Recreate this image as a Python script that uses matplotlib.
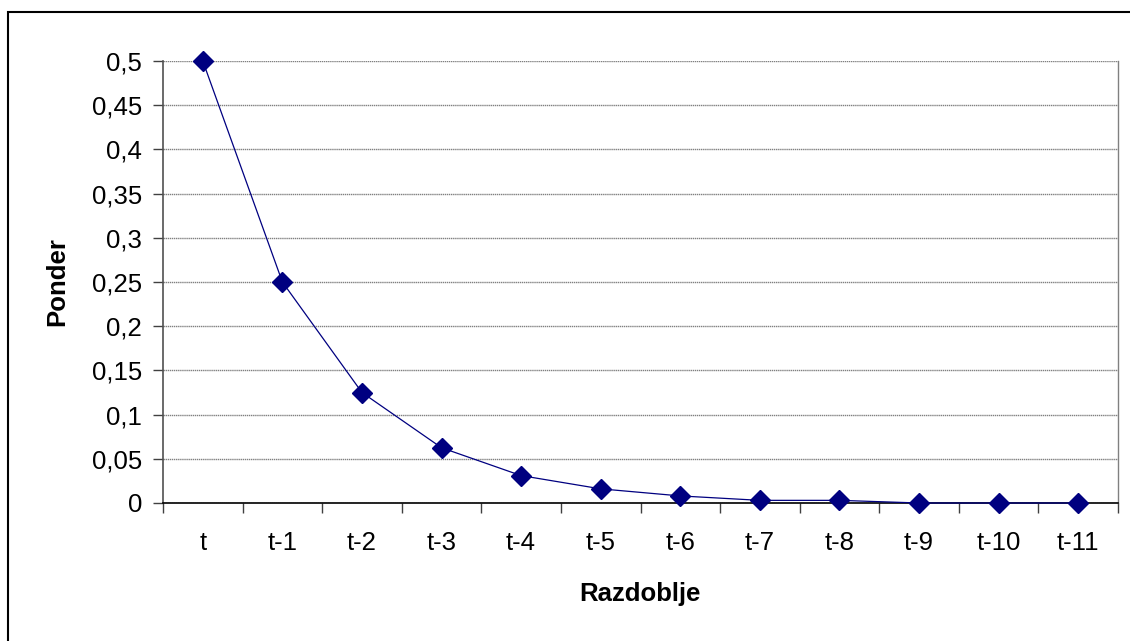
#!/usr/bin/env python3

"""
Exponential smoothing weights per period, Excel-style line chart with diamond markers.
"""

import matplotlib
matplotlib.use("Agg")
import matplotlib.pyplot as plt
from matplotlib.patches import Rectangle
from matplotlib.ticker import FixedLocator, FuncFormatter, MultipleLocator

# Data
periods = ["t", "t-1", "t-2", "t-3", "t-4", "t-5", "t-6", "t-7", "t-8", "t-9", "t-10", "t-11"]
weights = [0.5, 0.25, 0.125, 0.0625, 0.031, 0.016, 0.008, 0.003, 0.003, 0.0, 0.0, 0.0]
y_ticks = [0, 0.05, 0.1, 0.15, 0.2, 0.25, 0.3, 0.35, 0.4, 0.45, 0.5]

W, H = 1130, 641
plt.rcParams["font.family"] = ["Liberation Sans", "DejaVu Sans"]

fig = plt.figure(figsize=(W / 100, H / 100), dpi=100)
ax = fig.add_axes([163 / W, 1 - 503 / H, (1118 - 163) / W, (503 - 61) / H])

# Outer chart frame (right and bottom edges fall off the picture)
fig.patches.append(Rectangle((8 / W, -0.2), 1.2, 1.2 - 12 / H,
                             transform=fig.transFigure, fill=False,
                             edgecolor="black", linewidth=1.5))

x = list(range(len(periods)))
ax.plot(x, weights, color="#000080", linewidth=0.9, marker="D", markersize=10,
        markerfacecolor="#000080", markeredgecolor="#000080", clip_on=False, zorder=3)

ax.set_xlim(-0.5, len(periods) - 0.5)
ax.set_ylim(0, 0.5)

# Gridlines like Excel's gray horizontal lines
ax.yaxis.set_major_locator(FixedLocator(y_ticks))
ax.yaxis.set_major_formatter(FuncFormatter(lambda v, _: f"{v:g}".replace(".", ",")))
ax.grid(axis="y", color="#808080", linewidth=1.0, linestyle=(0, (1, 0.5)))
ax.set_axisbelow(True)

# Category labels centered, tick marks between categories
ax.set_xticks(x)
ax.set_xticklabels(periods)
ax.xaxis.set_minor_locator(MultipleLocator(1, offset=0.5))
ax.tick_params(axis="x", which="major", length=0, pad=20, labelsize=18.5)
ax.tick_params(axis="x", which="minor", length=7, width=1.0, color="#404040")
ax.tick_params(axis="y", which="major", length=7, width=1.0, color="#404040",
               labelsize=18.5, pad=8)

ax.spines["top"].set_visible(False)
ax.spines["left"].set_color("#505050")
ax.spines["left"].set_linewidth(1.2)
ax.spines["bottom"].set_color("black")
ax.spines["bottom"].set_linewidth(1.2)
ax.spines["right"].set_color("#808080")
ax.spines["right"].set_linewidth(1.0)

fig.text(57 / W, 1 - 282 / H, "Ponder", rotation=90, ha="center", va="center",
         fontsize=18.5, fontweight="bold")
fig.text(640 / W, 1 - 594 / H, "Razdoblje", ha="center", va="center",
         fontsize=18.5, fontweight="bold")

fig.savefig("out.png", dpi=100)
plt.close(fig)
